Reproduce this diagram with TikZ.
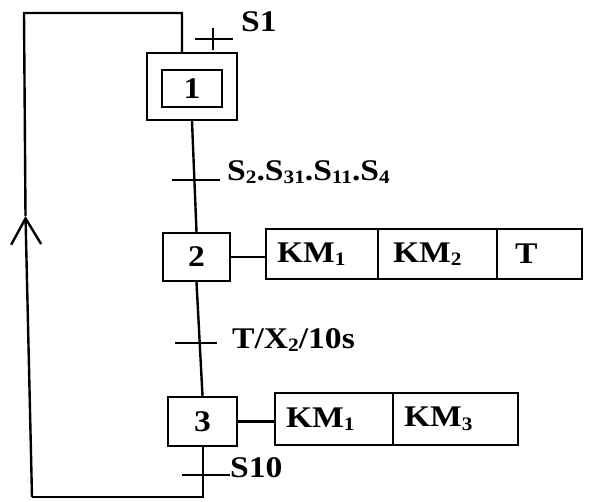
\documentclass[tikz,border=0pt]{standalone}
\usepackage{fontspec}
\setmainfont[FakeStretch=1.12]{Liberation Serif}
\usetikzlibrary{arrows.meta}
\newcommand\lowsub[1]{\raisebox{-0.12em}{\fontsize{19}{19}\selectfont #1}}
\newcommand\bigtext{\fontsize{30}{32}\selectfont\bfseries}
\begin{document}
\begin{tikzpicture}[x=1pt,y=-1pt,line width=2.4pt,
  txt/.style={font=\bigtext, inner sep=0pt},
  stepbox/.style={draw, inner sep=0pt, font=\bigtext},
  cell/.style={draw, inner xsep=11pt, inner ysep=0pt, outer sep=0pt,
    minimum height=50pt, align=left, font=\bigtext}]
\useasboundingbox (0,0) rectangle (596,502);

% steps
\node[stepbox, minimum width=90pt, minimum height=67pt] (s1o) at (192,86.5) {};
\node[stepbox, minimum width=60pt, minimum height=37pt] (s1) at (192,88.5) {1};
\node[stepbox, minimum width=67pt, minimum height=48pt] (s2) at (196.5,257) {2};
\node[stepbox, minimum width=69pt, minimum height=49pt] (s3) at (202.5,421.5) {3};

% actions of step 2
\node[cell, text width=90pt, anchor=west] (a21) at (266,254) {KM\lowsub{1}};
\node[cell, text width=97pt, anchor=west] (a22) at (a21.east) {\hspace{4pt}KM\lowsub{2}};
\node[cell, text width=63pt, anchor=west] (a23) at (a22.east) {\hspace{7pt}T};

% actions of step 3
\node[cell, text width=96pt, anchor=west, minimum height=52pt] (a31) at (275,419) {KM\lowsub{1}};
\node[cell, text width=103pt, anchor=west, minimum height=52pt] (a32) at (a31.east) {KM\lowsub{3}};

\draw (s2.east) -- (s2.east -| a21.west);
\draw (s3.east) -- (s3.east -| a31.west);

% transitions
\coordinate (t1) at (194,180);
\coordinate (t2) at (199,343);
\coordinate (t3) at (203,475);
\draw (s1o.south) -- (s2.north);
\draw (s2.south) -- (s3.north);
\draw ([xshift=-22pt]t1) -- ([xshift=26pt]t1);
\draw ([xshift=-24pt]t2) -- ([xshift=18pt]t2);
\draw ([xshift=-21pt]t3) -- ([xshift=27pt]t3);

% transition of step 1
\coordinate (p1) at (213,39);
\draw ([xshift=-18pt]p1) -- ([xshift=20pt]p1);
\draw ([yshift=-11pt]p1) -- ([yshift=11pt]p1);

% labels
\node[txt, anchor=west] (l1) at (240,22) {S1};
\node[txt, anchor=west] (l2) at (226,172) {S\lowsub{2}.S\lowsub{31}.S\lowsub{11}.S\lowsub{4}};
\node[txt, anchor=west] (l3) at (231,340) {T/X\lowsub{2}/10s};
\node[txt, anchor=west] (l4) at (229,468) {S10};

% return loop
\coordinate (b1) at (203,497);
\coordinate (b2) at (32,497);
\coordinate (ar) at (25.5,216);
\coordinate (c1) at (24,13);
\coordinate (c2) at (182,13);
\draw (s3.south -| b1) -- (b1) -- (b2);
\draw[-{Straight Barb[length=26pt,width=30pt,line width=2.4pt]}] (b2) -- (ar);
\draw (ar) -- (c1) -- (c2) -- (c2 |- s1o.north);
\end{tikzpicture}
\end{document}
